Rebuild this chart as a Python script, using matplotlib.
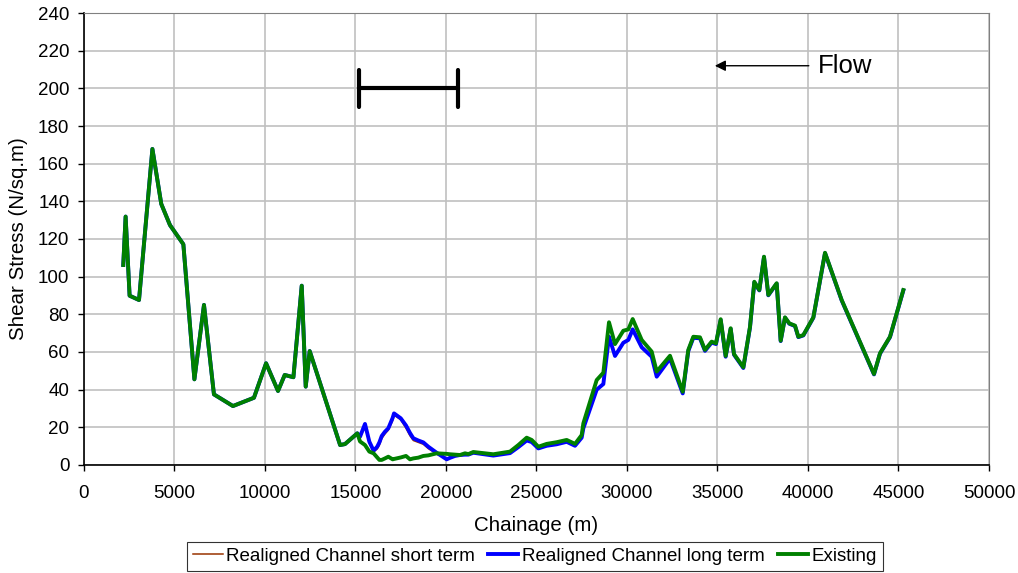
import matplotlib.pyplot as plt

plt.rcParams['font.family'] = ['Liberation Sans', 'DejaVu Sans']

# chainage (m) shared by the three runs
chainage = [2170, 2300, 2520, 3040, 3780, 4270, 4750, 5490, 6100, 6630,
            7180, 8230, 9390, 10060, 10720, 11090, 11570, 12030, 12250, 12470,
            14150, 14420, 15100, 15250, 15525, 15765, 16000, 16200, 16320, 16450,
            16630, 16814, 17053, 17129, 17500, 17790, 18011, 18195, 18471, 18748,
            19024, 19485, 20038, 20222, 20498, 20774, 21050, 21234, 21510, 22615,
            23537, 23997, 24458, 24734, 25103, 25563, 26116, 26669, 27129, 27497,
            27589, 28326, 28694, 29006, 29338, 29798, 30074, 30315, 30813, 31365,
            31642, 32376, 33080, 33387, 33664, 34032, 34309, 34677, 34917, 35176,
            35452, 35728, 35912, 36428, 36797, 37035, 37311, 37570, 37809, 38270,
            38491, 38729, 38968, 39283, 39467, 39743, 40296, 40941, 41862, 43647,
            43978, 44531, 45268]

existing = [106.2, 131.9, 89.9, 87.6, 167.8, 138.6, 127.4, 117.2, 45.5, 85.0,
            37.5, 31.3, 35.7, 54.0, 39.3, 47.8, 46.6, 95.2, 41.6, 60.5,
            10.6, 11.1, 16.8, 12.5, 10.6, 7.1, 6.2, 4.0, 2.7, 2.7,
            3.5, 4.4, 3.0, 3.2, 4.0, 4.8, 3.0, 3.5, 3.9, 4.8,
            5.1, 6.2, 5.9, 5.7, 5.5, 5.3, 6.2, 5.8, 6.9, 5.7,
            7.1, 10.6, 14.5, 13.3, 9.7, 11.2, 12.1, 13.3, 11.2, 15.9,
            22.1, 45.1, 49.0, 75.8, 64.2, 71.3, 72.0, 77.5, 66.4, 60.2,
            49.6, 58.0, 38.9, 61.1, 68.1, 67.8, 61.1, 65.5, 64.6, 77.4,
            57.9, 72.6, 58.9, 51.9, 73.4, 97.3, 92.9, 110.6, 90.3, 96.5,
            66.0, 78.4, 75.2, 74.0, 68.1, 69.0, 78.4, 112.7, 87.6, 48.3,
            59.3, 68.1, 92.9]

long_term = [106.2, 131.9, 89.9, 87.6, 167.8, 138.6, 127.4, 117.2, 45.5, 85.0,
             37.5, 31.3, 35.7, 54.0, 39.3, 47.8, 46.6, 95.2, 41.6, 60.5,
             10.6, 11.1, 16.8, 15.0, 21.8, 12.4, 7.6, 9.7, 12.0, 15.4,
             17.7, 19.5, 25.0, 27.4, 24.8, 21.0, 17.0, 14.2, 13.0, 12.0,
             9.7, 6.5, 3.0, 3.8, 4.8, 5.3, 5.5, 5.5, 6.5, 5.0,
             6.3, 9.5, 13.0, 12.2, 8.8, 10.2, 11.0, 12.3, 10.2, 14.5,
             19.5, 40.0, 43.0, 68.1, 57.9, 64.9, 66.4, 72.0, 62.5, 57.5,
             46.9, 56.5, 38.0, 60.5, 67.5, 67.3, 60.6, 65.0, 64.2, 77.0,
             57.5, 72.3, 58.6, 51.5, 73.1, 97.0, 92.7, 110.4, 90.1, 96.3,
             65.8, 78.2, 75.0, 73.8, 67.9, 68.8, 78.2, 112.5, 87.4, 48.1,
             59.1, 67.9, 92.7]

short_term = [106.2, 131.9, 89.9, 87.6, 167.8, 138.6, 127.4, 117.2, 45.5, 85.0,
              37.5, 31.3, 35.7, 54.0, 39.3, 47.8, 46.6, 95.2, 41.6, 60.5,
              10.6, 11.1, 16.8, 14.5, 20.5, 11.5, 7.0, 8.5, 10.5, 14.0,
              16.5, 18.5, 23.5, 26.5, 24.0, 19.5, 15.5, 13.0, 12.0, 11.0,
              8.7, 5.8, 3.5, 4.0, 4.8, 5.3, 5.5, 5.5, 6.5, 5.0,
              6.3, 9.5, 13.0, 12.2, 8.8, 10.2, 11.0, 12.3, 10.2, 14.5,
              19.5, 40.0, 43.0, 68.1, 57.9, 64.9, 66.4, 72.0, 62.5, 57.5,
              46.9, 56.5, 38.0, 60.5, 67.5, 67.3, 60.6, 65.0, 64.2, 77.0,
              57.5, 72.3, 58.6, 51.5, 73.1, 97.0, 92.7, 110.4, 90.1, 96.3,
              65.8, 78.2, 75.0, 73.8, 67.9, 68.8, 78.2, 112.5, 87.4, 48.1,
              59.1, 67.9, 92.7]

# reach marker and flow arrow
REACH_START, REACH_END, REACH_Y = 15200, 20650, 200
FLOW_TAIL, FLOW_HEAD, FLOW_Y = 40200, 34700, 212

fig = plt.figure(figsize=(10.18, 5.73), dpi=100)
ax = fig.add_axes([0.0825, 0.1885, 0.889, 0.7888])

ax.plot(chainage, short_term, color='#993300', lw=1.1, label='Realigned Channel short term', zorder=3)
ax.plot(chainage, long_term, color='#0000ff', lw=2.8, label='Realigned Channel long term', zorder=4)
ax.plot(chainage, existing, color='#008000', lw=2.8, label='Existing', zorder=5)

ax.set_xlim(0, 50000)
ax.set_ylim(0, 240)
ax.set_xticks(range(0, 50001, 5000))
ax.set_yticks(range(0, 241, 20))
ax.grid(True, color='#c0c0c0', lw=1.2)
ax.set_axisbelow(True)
ax.tick_params(direction='out', length=4.5, width=1, labelsize=13.5, colors='black', pad=6)
ax.tick_params(axis='x', pad=10)
for s in ['top', 'right']:
    ax.spines[s].set_color('#808080')
for s in ['left', 'bottom']:
    ax.spines[s].set_color('black')
    ax.spines[s].set_linewidth(1.2)

ax.set_xlabel('Chainage (m)', fontsize=14.8, labelpad=10)
ax.set_ylabel('Shear Stress (N/sq.m)', fontsize=14.8, labelpad=7)

# H-shaped reach bar
ax.plot([REACH_START, REACH_END], [REACH_Y, REACH_Y], color='black', lw=3, solid_capstyle='round', zorder=6)
for xe in (REACH_START, REACH_END):
    ax.plot([xe, xe], [REACH_Y - 10, REACH_Y + 10], color='black', lw=3, solid_capstyle='round', zorder=6)

ax.annotate('', xy=(FLOW_HEAD, FLOW_Y), xytext=(FLOW_TAIL, FLOW_Y),
            arrowprops=dict(arrowstyle='-|>', color='black', lw=1, mutation_scale=16))
ax.text(40550, FLOW_Y, 'Flow', fontsize=18.5, va='center', ha='left')

leg = fig.legend(loc='center', bbox_to_anchor=(0.5255, 0.029), ncol=3, fontsize=13.5,
                 frameon=True, fancybox=False, edgecolor='black', handlelength=1.6,
                 handletextpad=0.2, columnspacing=0.7, borderpad=0.3)
leg.get_frame().set_linewidth(0.8)

fig.savefig('out.png', dpi=100)
